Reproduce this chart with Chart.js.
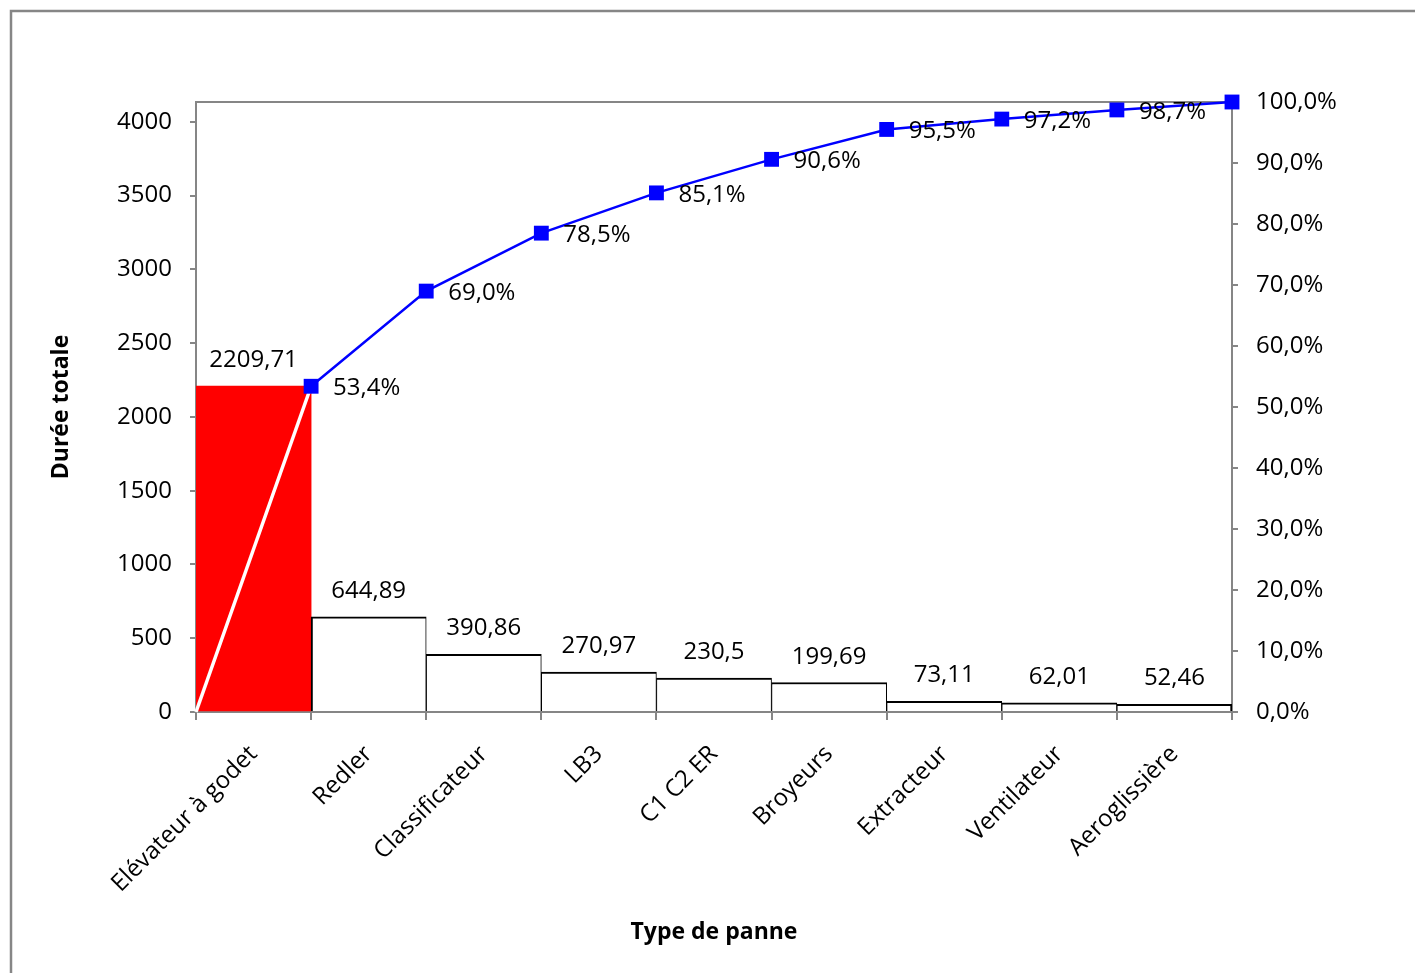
<!DOCTYPE html>
<html lang="fr">
<head>
<meta charset="utf-8">
<title>Diagramme de Pareto - Durée totale par type de panne</title>
<script src="https://cdn.jsdelivr.net/npm/chart.js@4.4.1/dist/chart.umd.min.js"></script>
<style>
  html,body{margin:0;padding:0;background:#fff;}
  canvas{display:block;}
</style>
</head>
<body>
<canvas id="pareto" width="1415" height="973"></canvas>
<script>
// --- données ---
const categories = ['Elévateur à godet','Redler','Classificateur','LB3','C1 C2 ER','Broyeurs','Extracteur','Ventilateur','Aeroglissière'];
const durees = [2209.71, 644.89, 390.86, 270.97, 230.5, 199.69, 73.11, 62.01, 52.46];
// cumul en %, un point par bord de barre (le premier = origine)
const cumulPct = [0, 53.4, 69.0, 78.5, 85.1, 90.6, 95.5, 97.2, 98.7, 100.0];
const leftTicks = [0, 500, 1000, 1500, 2000, 2500, 3000, 3500, 4000];
const rightTicks = [0, 10, 20, 30, 40, 50, 60, 70, 80, 90, 100];

const total = durees.reduce((a, b) => a + b, 0); // 100% = somme des durées
const GRAY = '#868686';
const FONT = "'Open Sans', sans-serif";
const FS = 24;

Chart.defaults.font.family = FONT;
Chart.defaults.font.size = FS;
Chart.defaults.color = '#000';

const fmtNum = v => String(v).replace('.', ',');
const fmtPct = v => v.toFixed(1).replace('.', ',') + '%';

// cadre extérieur + bord haut de la zone de tracé
const framePlugin = {
  id: 'frame',
  beforeDraw(chart){
    const c = chart.ctx;
    c.save();
    c.fillStyle = '#fff';
    c.fillRect(0, 0, chart.width, chart.height);
    c.strokeStyle = GRAY;
    c.lineWidth = 2.5;
    c.beginPath();
    c.moveTo(11, chart.height);
    c.lineTo(11, 11);
    c.lineTo(chart.width, 11);
    c.stroke();
    c.restore();
  },
  beforeDatasetsDraw(chart){
    const a = chart.chartArea, c = chart.ctx;
    c.save();
    c.strokeStyle = GRAY;
    c.lineWidth = 2;
    c.beginPath();
    c.moveTo(a.left, a.top);
    c.lineTo(a.right, a.top);
    c.stroke();
    c.restore();
  }
};

// étiquettes de données (valeurs des barres, % cumulés)
const labelsPlugin = {
  id: 'labels',
  afterDatasetsDraw(chart){
    const c = chart.ctx;
    c.save();
    c.font = FS + 'px ' + FONT;
    c.fillStyle = '#000';
    chart.getDatasetMeta(0).data.forEach((el, i) => {
      c.textAlign = 'center';
      c.textBaseline = 'alphabetic';
      c.fillText(fmtNum(durees[i]), el.x, el.y - 19);
    });
    chart.getDatasetMeta(1).data.forEach((el, i) => {
      if (i === 0 || i === cumulPct.length - 1) return;
      c.textAlign = 'left';
      c.textBaseline = 'middle';
      c.fillText(fmtPct(cumulPct[i]), el.x + 22, el.y + 2);
    });
    c.restore();
  }
};

const last = durees.length - 1;

new Chart(document.getElementById('pareto'), {
  type: 'bar',
  data: {
    labels: categories,
    datasets: [
      {
        label: 'Durée totale',
        data: durees,
        xAxisID: 'x',
        yAxisID: 'y',
        order: 1,
        grouped: false,
        backgroundColor: durees.map((v, i) => i === 0 ? '#ff0000' : '#ffffff'),
        borderColor: '#000',
        borderWidth: ctx => ctx.dataIndex === 0 ? 0 :
          {top: 2, left: ctx.dataIndex === 1 ? 2 : 1, right: ctx.dataIndex === last ? 2 : 1, bottom: 0},
        borderSkipped: 'start',
        barPercentage: 1,
        categoryPercentage: 1
      },
      {
        type: 'line',
        label: 'Cumul %',
        data: cumulPct.map((p, i) => ({x: i, y: p})),
        xAxisID: 'xl',
        yAxisID: 'y1',
        order: 0,
        clip: false,
        borderColor: '#0000ff',
        borderWidth: 2.5,
        segment: {
          borderColor: c => c.p0DataIndex === 0 ? '#ffffff' : '#0000ff',
          borderWidth: c => c.p0DataIndex === 0 ? 3.5 : 2.5
        },
        pointStyle: 'rect',
        pointRadius: cumulPct.map((p, i) => i === 0 ? 0 : 10.5),
        pointBackgroundColor: '#0000ff',
        pointBorderColor: '#0000ff',
        pointBorderWidth: 0,
        tension: 0
      }
    ]
  },
  options: {
    responsive: false,
    animation: false,
    layout: {padding: {top: 102, right: 0, bottom: 0, left: 0}},
    plugins: {legend: {display: false}, tooltip: {enabled: false}},
    scales: {
      x: {
        type: 'category',
        position: 'bottom',
        offset: true,
        afterFit: s => { s.height = 261; },
        grid: {offset: true, drawOnChartArea: false, drawTicks: true, tickLength: 8, color: GRAY, lineWidth: 2},
        border: {color: GRAY, width: 2},
        ticks: {autoSkip: false, maxRotation: 45, minRotation: 45, padding: 20},
        title: {display: true, text: 'Type de panne', font: {size: 23, weight: 'bold'}, padding: {top: 0, bottom: 27}}
      },
      xl: {
        type: 'linear',
        display: false,
        min: 0,
        max: categories.length,
        offset: false
      },
      y: {
        position: 'left',
        min: 0,
        max: total,
        afterFit: s => { s.width = 196; },
        afterBuildTicks: s => { s.ticks = leftTicks.map(v => ({value: v})); },
        grid: {drawOnChartArea: false, drawTicks: true, tickLength: 6, color: GRAY, lineWidth: 2},
        border: {color: GRAY, width: 2},
        ticks: {padding: 18, callback: v => String(v)},
        title: {display: true, text: 'Durée totale', font: {size: 23, weight: 'bold'}, padding: {top: 48, bottom: 0}}
      },
      y1: {
        position: 'right',
        min: 0,
        max: 100,
        afterFit: s => { s.width = 183; },
        afterBuildTicks: s => { s.ticks = rightTicks.map(v => ({value: v})); },
        grid: {drawOnChartArea: false, drawTicks: true, tickLength: 6, color: GRAY, lineWidth: 2},
        border: {color: GRAY, width: 2},
        ticks: {padding: 18, callback: v => fmtPct(v)}
      }
    }
  },
  plugins: [framePlugin, labelsPlugin]
});
</script>
</body>
</html>
